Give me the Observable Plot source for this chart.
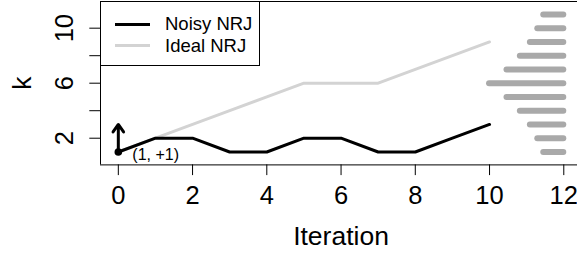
<!DOCTYPE html>
<html>
<head>
<meta charset="utf-8">
<script src="https://cdn.jsdelivr.net/npm/d3@7"></script>
<script src="https://cdn.jsdelivr.net/npm/@observablehq/plot@0.6"></script>
<style>
  html, body { margin: 0; padding: 0; background: #fff; }
  #wrap { position: relative; width: 577px; height: 260px; font-family: "Liberation Sans", Arial, Helvetica, sans-serif; }
  #legend { position: absolute; left: 100px; top: 1px; width: 158px; height: 63px; border: 1px solid #000; background: #fff; box-sizing: content-box; }
  .row { position: absolute; left: 0; height: 22px; display: flex; align-items: center; font-size: 18.5px; color: #000; }
  .sw { display: inline-block; width: 35px; height: 3px; margin-left: 14px; margin-right: 15px; }
</style>
</head>
<body>
<div id="wrap"></div>
<script>
const iterations = [0, 1, 2, 3, 4, 5, 6, 7, 8, 9, 10];
const noisyK = [1, 2, 2, 1, 1, 2, 2, 1, 1, 2, 3];
const idealK = [1, 2, 3, 4, 5, 6, 6, 6, 7, 8, 9];
const distK = [1, 2, 3, 4, 5, 6, 7, 8, 9, 10, 11];
const distStart = [11.46, 11.30, 11.10, 10.83, 10.47, 10.0, 10.47, 10.83, 11.10, 11.30, 11.46];
const distEnd = 12;
const arrowFrom = {x: 0, y: 1};
const arrowTo = {x: 0, y: 3};
const pointLabel = "(1, +1)";
const xTicks = [0, 2, 4, 6, 8, 10, 12];
const yTicks = [2, 4, 6, 8, 10];
const yLabels = [2, 6, 10];
const xDomain = [-0.48, 12.48];
const yDomain = [0.06, 11.94];
const legendNames = ["Noisy NRJ", "Ideal NRJ"];
const legendColors = ["#000000", "#d3d3d3"];

const noisy = iterations.map((x, i) => ({x, k: noisyK[i]}));
const ideal = iterations.map((x, i) => ({x, k: idealK[i]}));
const dist = distK.map((k, i) => ({k, x1: distStart[i], x2: distEnd}));

const plot = Plot.plot({
  width: 577,
  height: 260,
  marginLeft: 100,
  marginRight: 0,
  marginTop: 1,
  marginBottom: 95.6,
  style: {fontFamily: "Liberation Sans, Arial, Helvetica, sans-serif", fontSize: "25.5px", color: "#000", background: "#fff"},
  x: {domain: xDomain, range: [100, 581.1]},
  y: {domain: yDomain, range: [164.4, 1]},
  marks: [
    Plot.ruleY(dist, {y: "k", x1: "x1", x2: "x2", stroke: "#a9a9a9", strokeWidth: 6, strokeLinecap: "round"}),
    Plot.line(ideal, {x: "x", y: "k", stroke: "#d3d3d3", strokeWidth: 3, strokeLinejoin: "round", strokeLinecap: "round"}),
    Plot.line(noisy, {x: "x", y: "k", stroke: "#000", strokeWidth: 3, strokeLinejoin: "round", strokeLinecap: "round"}),
    Plot.arrow([{a: arrowFrom, b: arrowTo}], {x1: d => d.a.x, y1: d => d.a.y, x2: d => d.b.x, y2: d => d.b.y, stroke: "#000", strokeWidth: 3, headLength: 8, headAngle: 70}),
    Plot.dot([arrowFrom], {x: "x", y: "y", r: 3.8, fill: "#000"}),
    Plot.text([arrowFrom], {x: "x", y: "y", text: () => pointLabel, textAnchor: "start", dx: 14, dy: 3, fontSize: 16}),
    Plot.ruleX([xDomain[0]], {stroke: "#000", strokeWidth: 1}),
    Plot.ruleY(yDomain, {stroke: "#000", strokeWidth: 1}),
    Plot.axisX({ticks: xTicks, tickSize: 10.7, tickPadding: 10, label: null, fontSize: 25.5}),
    Plot.axisY({ticks: yTicks, tickSize: 10.7, tickFormat: () => "", label: null}),
    Plot.text(yLabels, {y: d => d, text: d => String(d), frameAnchor: "left", textAnchor: "middle", lineAnchor: "middle", dx: -36, rotate: -90, fontSize: 25.5}),
    Plot.text(["k"], {text: d => d, frameAnchor: "left", textAnchor: "middle", lineAnchor: "middle", dx: -78, rotate: -90, fontSize: 26.5}),
    Plot.text(["Iteration"], {text: d => d, frameAnchor: "bottom", textAnchor: "middle", lineAnchor: "middle", dx: 2, dy: 71.6, fontSize: 26.5})
  ]
});

const wrap = document.getElementById("wrap");
wrap.appendChild(plot);
const legend = document.createElement("div");
legend.id = "legend";
legendNames.forEach((name, i) => {
  const row = document.createElement("div");
  row.className = "row";
  row.style.top = (11 + i * 21.6) + "px";
  const sw = document.createElement("span");
  sw.className = "sw";
  sw.style.background = legendColors[i];
  const t = document.createElement("span");
  t.textContent = name;
  row.appendChild(sw);
  row.appendChild(t);
  legend.appendChild(row);
});
wrap.appendChild(legend);
plot.style.position = "absolute";
plot.style.left = "0";
plot.style.top = "0";
</script>
</body>
</html>
